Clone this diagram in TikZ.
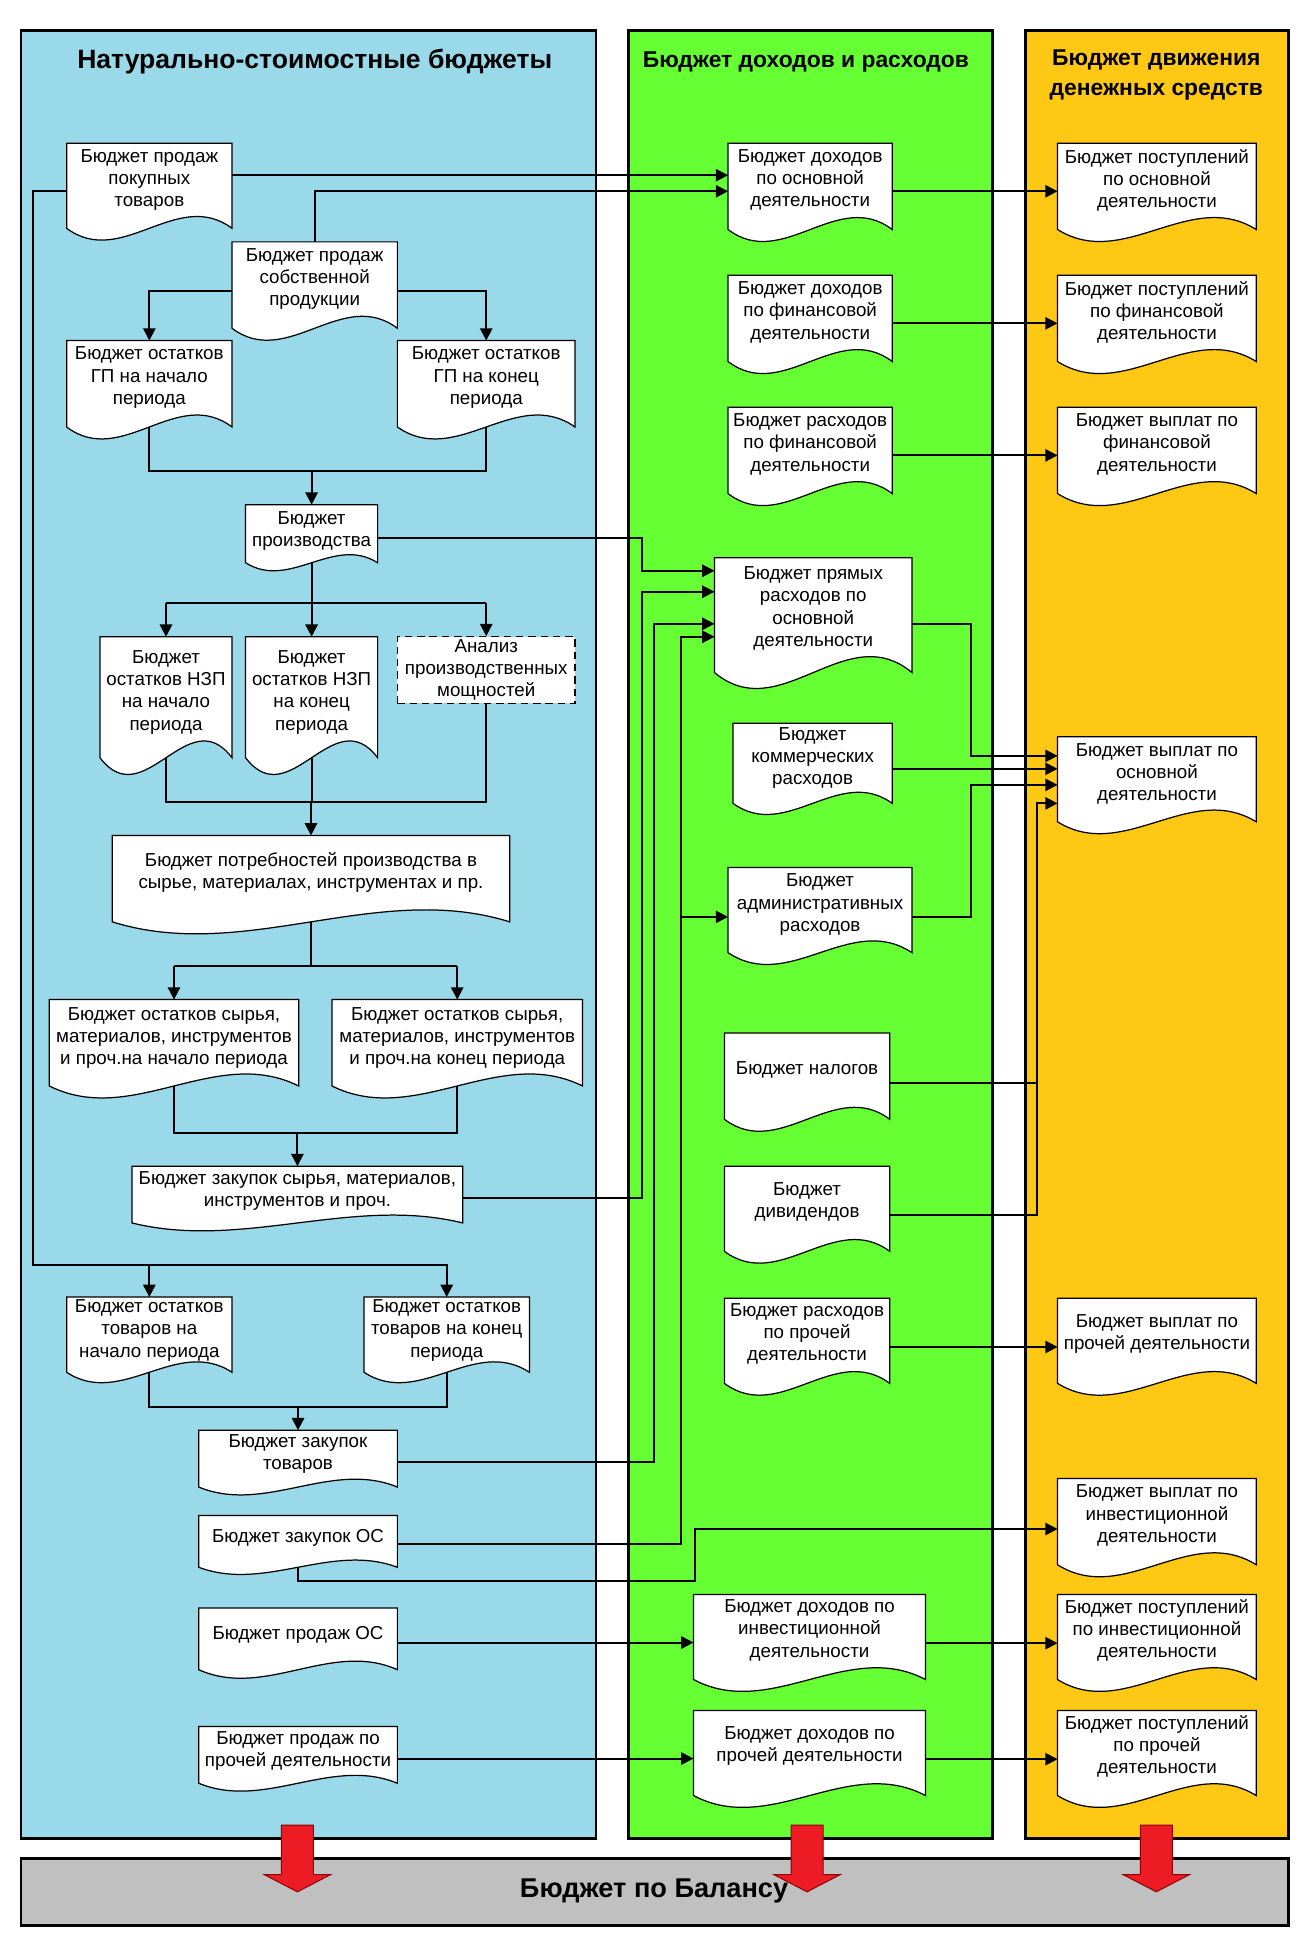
\documentclass[tikz,border=0pt]{standalone}
\usepackage{fontspec}
\setmainfont{Liberation Sans}
\usetikzlibrary{arrows.meta,calc}
\definecolor{bluepanel}{RGB}{153,217,234}
\definecolor{greenpanel}{RGB}{102,255,51}
\definecolor{orangepanel}{RGB}{255,200,20}
\definecolor{greybar}{RGB}{192,192,192}
\definecolor{redarrow}{RGB}{237,28,36}
\tikzset{
 panel/.style={draw=black, line width=2.2pt},
 docline/.style={fill=white, draw=black, line width=1pt},
 docanchor/.style={inner sep=0pt, outer sep=0pt, draw=none},
 doctext/.style={inner sep=0pt, align=center, font=\fontsize{15.2}{18}\selectfont},
 anabox/.style={draw=black, fill=white, line width=1pt, dash pattern=on 6pt off 4pt, inner sep=0pt, align=center, minimum width=144pt, minimum height=54pt, font=\fontsize{15.2}{18}\selectfont},
 conn/.style={line width=1.6pt},
 arr/.style={line width=1.6pt, -{Triangle[length=10pt,width=10pt]}},
 redarr/.style={fill=redarrow, draw=red!55!black, line width=0.8pt},
 ptitle/.style={font=\bfseries\fontsize{21.5}{26}\selectfont, inner sep=0pt},
 stitle/.style={font=\bfseries\fontsize{18.5}{24.5}\selectfont, inner sep=0pt, align=center},
}
\newcommand\docu[7]{%
  \draw[docline] (#2,#3) -- (#4,#3) -- (#4,#5)
     .. controls ({#2+2*(#4-#2)/3},{#5-0.48*(#5-#3)}) and ({#2+(#4-#2)/3},{#5+0.48*(#5-#3)}) .. (#2,#5) -- cycle;
  \node[docanchor, minimum width={(#4-#2)*1pt}, minimum height={(#5-#3)*1pt}] (#1) at ({(#2+#4)/2},{(#3+#5)/2}) {};
  \node[doctext] (#1t) at ({(#2+#4)/2},#6) {#7};
}
\begin{document}
\begin{tikzpicture}[x=1pt,y=-1pt]
\useasboundingbox (0,0) rectangle (1055,1568);
\fill[white] (0,0) rectangle (1055,1568);
% panels
\draw[panel, fill=bluepanel] (17,25) rectangle (483,1490);
\draw[panel, fill=greenpanel] (509,25) rectangle (804,1490);
\draw[panel, fill=orangepanel] (831,25) rectangle (1044,1490);
\draw[panel, fill=greybar] (17,1506) rectangle (1044,1560);
\node[ptitle] (t1) at (255,50) {Натурально-стоимостные бюджеты};
\node[stitle] (t2) at (653,50) {Бюджет доходов и расходов};
\node[stitle] (t3) at (937,61) {Бюджет движения\\денежных средств};
\node[font=\bfseries\fontsize{22}{26}\selectfont, inner sep=0pt] (bal) at (530,1532) {Бюджет по Балансу};
% blue documents
\docu{A}{54}{116}{188}{185}{146}{Бюджет продаж\\покупных\\товаров}
\docu{B}{188}{196}{322}{266}{226}{Бюджет продаж\\собственной\\продукции}
\docu{C}{54}{276}{188}{346}{306}{Бюджет остатков\\ГП на начало\\периода}
\docu{D}{322}{276}{466}{346}{306}{Бюджет остатков\\ГП на конец\\периода}
\docu{E}{199}{409}{306}{456}{430}{Бюджет\\производства}
\docu{F}{81}{516}{188}{614}{561}{Бюджет\\остатков НЗП\\на начало\\периода}
\docu{G}{199}{516}{306}{614}{561}{Бюджет\\остатков НЗП\\на конец\\периода}
\node[anabox] (H) at (394,543) {Анализ\\производственных\\мощностей};
\docu{I}{91}{677}{413}{747}{707}{Бюджет потребностей производства в\\сырье, материалах, инструментах и пр.}
\docu{J}{40}{810}{242}{880}{841}{Бюджет остатков сырья,\\материалов, инструментов\\и проч.на начало периода}
\docu{K}{269}{810}{472}{880}{841}{Бюджет остатков сырья,\\материалов, инструментов\\и проч.на конец периода}
\docu{L}{107}{945}{375}{991}{965}{Бюджет закупок сырья, материалов,\\инструментов и проч.}
\docu{M}{54}{1051}{188}{1112}{1078}{Бюджет остатков\\товаров на\\начало периода}
\docu{N}{295}{1051}{429}{1112}{1078}{Бюджет остатков\\товаров на конец\\периода}
\docu{O}{161}{1159}{322}{1205}{1178}{Бюджет закупок\\товаров}
\docu{P}{161}{1228}{322}{1270}{1246}{Бюджет закупок ОС}
\docu{Q}{161}{1303}{322}{1353}{1325}{Бюджет продаж ОС}
\docu{R}{161}{1399}{322}{1445}{1419}{Бюджет продаж по\\прочей деятельности}
% green documents
\docu{G1}{590}{116}{723}{186}{146}{Бюджет доходов\\по основной\\деятельности}
\docu{G2}{590}{223}{723}{293}{253}{Бюджет доходов\\по финансовой\\деятельности}
\docu{G3}{590}{330}{723}{400}{360}{Бюджет расходов\\по финансовой\\деятельности}
\docu{G4}{579}{452}{739}{545}{493}{Бюджет прямых\\расходов по\\основной\\деятельности}
\docu{G5}{594}{586}{723}{651}{614}{Бюджет\\коммерческих\\расходов}
\docu{G6}{590}{703}{739}{772}{733}{Бюджет\\административных\\расходов}
\docu{G7}{587}{837}{721}{907}{867}{Бюджет налогов}
\docu{G8}{587}{945}{721}{1014}{974}{Бюджет\\дивидендов}
\docu{G9}{587}{1052}{721}{1121}{1081}{Бюджет расходов\\по прочей\\деятельности}
\docu{G10}{562}{1292}{750}{1361}{1321}{Бюджет доходов по\\инвестиционной\\деятельности}
\docu{G11}{562}{1386}{750}{1455}{1415}{Бюджет доходов по\\прочей деятельности}
% orange documents
\docu{O1}{857}{116}{1018}{186}{146}{Бюджет поступлений\\по основной\\деятельности}
\docu{O2}{857}{223}{1018}{293}{253}{Бюджет поступлений\\по финансовой\\деятельности}
\docu{O3}{857}{330}{1018}{400}{360}{Бюджет выплат по\\финансовой\\деятельности}
\docu{O4}{857}{597}{1018}{666}{627}{Бюджет выплат по\\основной\\деятельности}
\docu{O5}{857}{1052}{1018}{1121}{1081}{Бюджет выплат по\\прочей деятельности}
\docu{O6}{857}{1198}{1018}{1268}{1228}{Бюджет выплат по\\инвестиционной\\деятельности}
\docu{O7}{857}{1292}{1018}{1361}{1321}{Бюджет поступлений\\по инвестиционной\\деятельности}
\docu{O8}{857}{1386}{1018}{1455}{1415}{Бюджет поступлений\\по прочей\\деятельности}
% connectors, blue column
\draw[arr] (A.east |- 0,142) -- (G1.west |- 0,142);
\draw[arr] (B.north) -- (B.north |- 0,155) -- (G1.west |- 0,155);
\draw[arr] (A.west |- 0,155) -- (27,155) -- (27,1025) -| (N.north);
\draw[arr] (M.north |- 0,1025) -- (M.north);
\draw[arr] (B.west |- 0,236) -| (C.north);
\draw[arr] (B.east |- 0,236) -| (D.north);
\draw[conn] (C.south) -- (C.south |- 0,382) -- (D.south |- 0,382) -- (D.south);
\draw[arr] (E.north |- 0,382) -- (E.north);
\draw[arr] (E.east |- 0,436) -- (520,436) -- (520,462.5) -- (G4.west |- 0,462.5);
\draw[conn] (E.south) -- (E.south |- 0,489);
\draw[conn] (F.north |- 0,489) -- (H.north |- 0,489);
\draw[arr] (F.north |- 0,489) -- (F.north);
\draw[arr] (G.north |- 0,489) -- (G.north);
\draw[arr] (H.north |- 0,489) -- (H.north);
\draw[conn] (F.south) -- (F.south |- 0,650) -- (H.south |- 0,650) -- (H.south);
\draw[conn] (G.south) -- (G.south |- 0,650);
\draw[arr] (I.north |- 0,650) -- (I.north);
\draw[conn] (I.south) -- (I.south |- 0,783);
\draw[conn] (J.north |- 0,783) -- (K.north |- 0,783);
\draw[arr] (J.north |- 0,783) -- (J.north);
\draw[arr] (K.north |- 0,783) -- (K.north);
\draw[conn] (J.south) -- (J.south |- 0,918) -- (K.south |- 0,918) -- (K.south);
\draw[arr] (L.north |- 0,918) -- (L.north);
\draw[arr] (L.east |- 0,971) -- (520,971) -- (520,479.5) -- (G4.west |- 0,479.5);
\draw[conn] (M.south) -- (M.south |- 0,1140) -- (N.south |- 0,1140) -- (N.south);
\draw[arr] (O.north |- 0,1140) -- (O.north);
\draw[arr] (O.east |- 0,1185) -- (530,1185) -- (530,505.5) -- (G4.west |- 0,505.5);
\draw[arr] (P.east |- 0,1251) -- (552,1251) -- (552,516) -- (G4.west |- 0,516);
\draw[arr] (552,743) -- (G6.west |- 0,743);
\draw[arr] (P.south) -- (P.south |- 0,1281) -- (563,1281) -- (563,1239) -- (O6.west |- 0,1239);
\draw[arr] (Q.east |- 0,1331) -- (G10.west |- 0,1331);
\draw[arr] (R.east |- 0,1425) -- (G11.west |- 0,1425);
% connectors, green to orange
\draw[arr] (G1.east |- 0,155) -- (O1.west |- 0,155);
\draw[arr] (G2.east |- 0,262) -- (O2.west |- 0,262);
\draw[arr] (G3.east |- 0,369) -- (O3.west |- 0,369);
\draw[arr] (G4.east |- 0,505.5) -- (787,505.5) -- (787,612.5) -- (O4.west |- 0,612.5);
\draw[arr] (G5.east |- 0,623) -- (O4.west |- 0,623);
\draw[arr] (G6.east |- 0,743) -- (787,743) -- (787,636) -- (O4.west |- 0,636);
\draw[arr] (G7.east |- 0,877.5) -- (840,877.5) -- (840,651) -- (O4.west |- 0,651);
\draw[conn] (G8.east |- 0,984.5) -- (840,984.5) -- (840,877.5);
\draw[arr] (G9.east |- 0,1091.5) -- (O5.west |- 0,1091.5);
\draw[arr] (G10.east |- 0,1331.5) -- (O7.west |- 0,1331.5);
\draw[arr] (G11.east |- 0,1425.5) -- (O8.west |- 0,1425.5);
% red arrows to the balance budget
\foreach \c in {241,654,937}{
  \draw[redarr] ({\c-13},1479) -- ({\c+13},1479) -- ({\c+13},1519) -- ({\c+27},1519) -- (\c,1533) -- ({\c-27},1519) -- ({\c-13},1519) -- cycle;
}
\end{tikzpicture}
\end{document}
